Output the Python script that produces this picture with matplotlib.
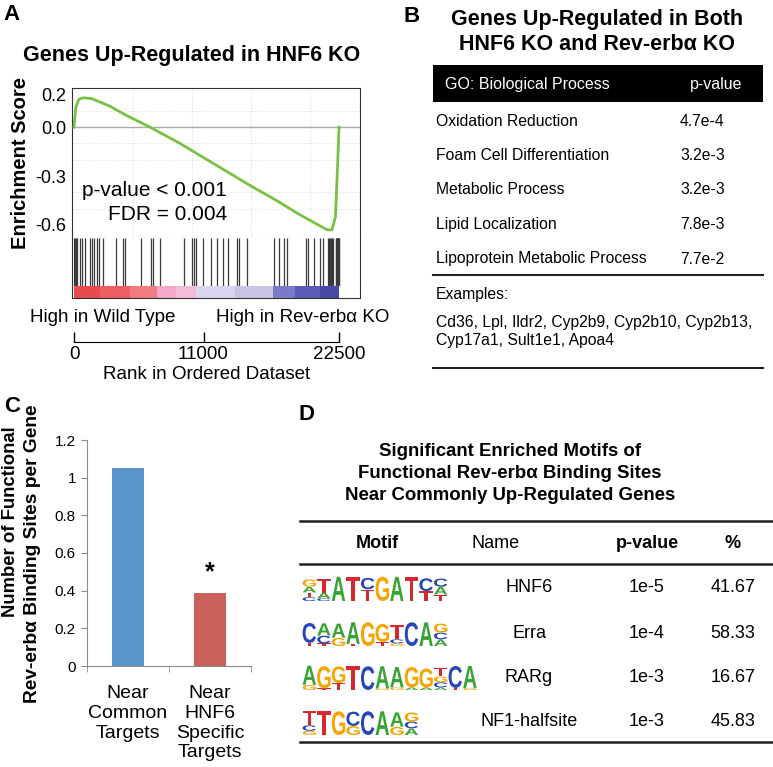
import numpy as np
import matplotlib
matplotlib.use("Agg")
import matplotlib.pyplot as plt
import matplotlib.transforms as mtransforms
from matplotlib.textpath import TextPath
from matplotlib.patches import PathPatch, Rectangle
from matplotlib.font_manager import FontProperties

plt.rcParams['font.family'] = ['Liberation Sans', 'DejaVu Sans']

W, H = 773, 767

# ---------------- data ----------------
# A: GSEA running enrichment score
es_rank = [0, 150, 400, 800, 1500, 3000, 4500, 6450, 9000, 12000, 15000,
           17200, 19000, 20500, 21500, 21900, 22200, 22400, 22500]
es_score = [0.0, 0.12, 0.17, 0.18, 0.175, 0.13, 0.07, 0.0, -0.10, -0.23, -0.36,
            -0.45, -0.53, -0.59, -0.63, -0.63, -0.55, -0.20, 0.0]
hit_ranks = [30, 100, 170, 280, 484, 680, 960, 1330, 1530, 1700, 1980, 2120, 2440,
             3590, 4160, 4300, 5710, 6510, 6730, 7280, 9340, 10020, 10190, 10360,
             10950, 11660, 12120, 12680, 13100, 13870, 14030, 14660, 17010, 17400,
             17830, 18110, 19670, 19890, 20380, 20890, 21170, 21560, 21640, 21720,
             21800, 21880, 22020, 22220, 22260, 22300, 22340, 22380, 22420, 22460, 22500]
band_edges = [0, 2200, 4750, 7050, 8650, 10360, 13670, 16900, 18760, 20890, 22500]
band_colors = ['#e84a4e', '#ec5e62', '#f07c80', '#f2a8c8', '#f4bcd8',
               '#d8d6ee', '#c8c4e4', '#7a7ac8', '#5a5ab8', '#4848a8']
rank_ticks = [0, 11000, 22500]

# B: GO table
go_terms = ['Oxidation Reduction', 'Foam Cell Differentiation', 'Metabolic Process',
            'Lipid Localization', 'Lipoprotein Metabolic Process']
go_pvals = ['4.7e-4', '3.2e-3', '3.2e-3', '7.8e-3', '7.7e-2']
example_genes = ['Cd36, Lpl, Ildr2, Cyp2b9, Cyp2b10, Cyp2b13,',
                 'Cyp17a1, Sult1e1, Apoa4']

# C: binding sites per gene
c_categories = ['Near\nCommon\nTargets', 'Near\nHNF6\nSpecific\nTargets']
c_values = [1.05, 0.39]
c_colors = ['#5b93cb', '#cb625a']

# D: motifs
motif_names = ['HNF6', 'Erra', 'RARg', 'NF1-halfsite']
motif_pvals = ['1e-5', '1e-4', '1e-3', '1e-3']
motif_pct = ['41.67', '58.33', '16.67', '45.83']
# each column: (letter, height) from bottom to top
hnf6_logo = [
    [('C', .15), ('T', .18), ('A', .22), ('G', .28)],
    [('C', .1), ('A', .22), ('T', .55)],
    [('A', .95)], [('T', .95)],
    [('T', .45), ('C', .45)],
    [('G', .95)], [('A', .95)], [('T', .95)],
    [('T', .38), ('C', .5)],
    [('T', .25), ('A', .3), ('C', .32)],
]
erra_logo = [
    [('T', .12), ('C', .78)],
    [('T', .1), ('C', .3), ('A', .48)],
    [('G', .32), ('A', .55)],
    [('T', .08), ('A', .85)],
    [('G', .93)],
    [('T', .16), ('G', .7)],
    [('G', .1), ('C', .16), ('T', .55)],
    [('C', .93)], [('A', .93)],
    [('A', .26), ('C', .26), ('G', .35)],
]
rarg_logo = [
    [('G', .2), ('A', .75)],
    [('T', .06), ('G', .87)],
    [('T', .27), ('G', .65)],
    [('T', .93)], [('C', .93)],
    [('G', .06), ('A', .87)],
    [('G', .1), ('A', .8)],
    [('A', .1), ('G', .8)],
    [('A', .1), ('G', .74)],
    [('A', .1), ('C', .2), ('G', .22), ('T', .35)],
    [('T', .08), ('C', .86)],
    [('G', .08), ('A', .86)],
]
nf1_logo = [
    [('G', .16), ('C', .22), ('T', .55)],
    [('T', .93)], [('G', .93)],
    [('G', .35), ('C', .56)],
    [('C', .93)], [('A', .93)],
    [('G', .32), ('A', .56)],
    [('A', .26), ('C', .26), ('G', .35)],
]
logos = [hnf6_logo, erra_logo, rarg_logo, nf1_logo]
base_colors = {'A': '#3aa335', 'C': '#2647b5', 'G': '#f5a400', 'T': '#d42a2f'}

# ---------------- helpers ----------------
fig = plt.figure(figsize=(W / 100, H / 100), dpi=100)


def box(x0, y0, x1, y1):
    return [x0 / W, 1 - y1 / H, (x1 - x0) / W, (y1 - y0) / H]


LOGO_FONT = FontProperties(family='Liberation Sans', weight='bold')


def draw_letter(ax, letter, x, y, w, h, color):
    tp = TextPath((0, 0), letter, size=1, prop=LOGO_FONT)
    bb = tp.get_extents()
    t = (mtransforms.Affine2D().translate(-bb.x0, -bb.y0)
         .scale(w / bb.width, h / bb.height).translate(x, y))
    ax.add_patch(PathPatch(t.transform_path(tp), facecolor=color, lw=0))


# overlay in pixel coords for labels / tables
ov = fig.add_axes([0, 0, 1, 1])
ov.set_xlim(0, W)
ov.set_ylim(H, 0)
ov.axis('off')
ov.set_zorder(10)

# ---------------- panel A ----------------
px_per_rank = 265 / 22500
xl = (-2 / px_per_rank, 22500 + 21 / px_per_rank)

ax_es = fig.add_axes(box(72, 88, 360, 238))
ax_es.plot(es_rank, es_score, color='#79c143', lw=2, zorder=3)
ax_es.axhline(0, color='#aaaaaa', lw=1, zorder=2)
ax_es.set_xlim(*xl)
ax_es.set_ylim(-0.68, 0.24)
ax_es.set_yticks([0.2, 0.0, -0.3, -0.6], ['0.2', '0.0', '-0.3', '-0.6'])
ax_es.set_yticks(np.arange(-0.6, 0.25, 0.1), minor=True)
ax_es.set_xticks([5000, 10000, 15000, 20000], minor=True)
ax_es.set_xticks([])
ax_es.tick_params(axis='y', which='both', length=0, labelsize=13, pad=4)
ax_es.tick_params(axis='x', which='both', length=0)
ax_es.grid(which='minor', color='#dddddd', ls=':', lw=0.8)
for s in ['top', 'left', 'right']:
    ax_es.spines[s].set_color('#333333')
ax_es.spines['bottom'].set_color('#cccccc')
ax_es.set_ylabel('Enrichment Score', fontsize=14.5, fontweight='bold', labelpad=4)

ax_hit = fig.add_axes(box(72, 238, 360, 286))
ax_hit.vlines(hit_ranks, 0, 1, color='#3a3a3a', lw=0.9)
ax_hit.set_xlim(*xl)
ax_hit.set_ylim(0, 1)
ax_hit.set_xticks([])
ax_hit.set_yticks([])
ax_hit.spines['top'].set_visible(False)
ax_hit.spines['bottom'].set_color('#cccccc')
for s in ['left', 'right']:
    ax_hit.spines[s].set_color('#333333')

ax_band = fig.add_axes(box(72, 286, 360, 298))
for i, c in enumerate(band_colors):
    ax_band.axvspan(band_edges[i], band_edges[i + 1], color=c, lw=0)
ax_band.set_xlim(*xl)
ax_band.set_ylim(0, 1)
ax_band.set_xticks([])
ax_band.set_yticks([])
ax_band.spines['top'].set_visible(False)
for s in ['left', 'right', 'bottom']:
    ax_band.spines[s].set_color('#333333')

ax_rank = fig.add_axes(box(74, 322, 339, 342))
ax_rank.set_xlim(0, 22500)
ax_rank.set_xticks(rank_ticks, [str(t) for t in rank_ticks])
ax_rank.set_yticks([])
ax_rank.tick_params(axis='x', direction='in', length=7.2, width=1, labelsize=13.5, pad=3)
for s in ['top', 'left', 'right']:
    ax_rank.spines[s].set_visible(False)
ax_rank.patch.set_alpha(0)
ax_rank.set_xlabel('Rank in Ordered Dataset', fontsize=13.5, labelpad=2)

ov.text(12, 15, 'A', fontsize=16, fontweight='bold', ha='center', va='center')
ov.text(192, 55, 'Genes Up-Regulated in HNF6 KO', fontsize=15.5, fontweight='bold',
        ha='center', va='center')
ov.text(82, 191, 'p-value < 0.001', fontsize=15, ha='left', va='center')
ov.text(108, 215, 'FDR = 0.004', fontsize=15, ha='left', va='center')
ov.text(30, 317, 'High in Wild Type', fontsize=13.5, ha='left', va='center')
ov.text(389, 317, 'High in Rev-erb\u03b1 KO', fontsize=13.5, ha='right', va='center')

# ---------------- panel B ----------------
ov.text(412, 16, 'B', fontsize=16, fontweight='bold', ha='center', va='center')
ov.text(597, 20, 'Genes Up-Regulated in Both', fontsize=15.5, fontweight='bold',
        ha='center', va='center')
ov.text(597, 45, 'HNF6 KO and Rev-erb\u03b1 KO', fontsize=15.5, fontweight='bold',
        ha='center', va='center')
ov.add_patch(Rectangle((433, 65), 330, 37, facecolor='black', lw=0))
ov.text(445, 84, 'GO: Biological Process', color='white', fontsize=11.5, va='center')
ov.text(690, 84, 'p-value', color='white', fontsize=11.5, va='center')
for i, (term, p) in enumerate(zip(go_terms, go_pvals)):
    y = 121 + i * 34.5
    ov.text(436, y, term, fontsize=11.3, va='center')
    ov.text(680, y, p, fontsize=11.3, va='center')
ov.plot([433, 763], [275, 275], color='#222222', lw=1.5)
ov.text(436, 294, 'Examples:', fontsize=11.3, va='center')
ov.text(436, 322, example_genes[0], fontsize=11.3, va='center')
ov.text(436, 340, example_genes[1], fontsize=11.3, va='center')
ov.plot([433, 763], [368, 368], color='#222222', lw=1.5)

# ---------------- panel C ----------------
ax_c = fig.add_axes(box(87, 440, 251, 666))
ax_c.bar([0, 1], c_values, width=0.4, color=c_colors)
ax_c.set_xlim(-0.5, 1.5)
ax_c.set_ylim(0, 1.2)
ax_c.set_yticks([0, 0.2, 0.4, 0.6, 0.8, 1, 1.2], ['0', '0.2', '0.4', '0.6', '0.8', '1', '1.2'])
ax_c.set_xticks([0, 1], c_categories)
ax_c.set_xticks([-0.5, 0.5, 1.5], minor=True)
ax_c.tick_params(axis='x', which='major', length=0, labelsize=14, pad=14)
ax_c.tick_params(axis='x', which='minor', length=4, color='#8c8c8c')
ax_c.tick_params(axis='y', length=4, color='#8c8c8c', labelsize=11, pad=4)
ax_c.spines['top'].set_visible(False)
ax_c.spines['right'].set_visible(False)
ax_c.spines['left'].set_color('#8c8c8c')
ax_c.spines['bottom'].set_color('#8c8c8c')
ax_c.text(1, 0.5, '*', fontsize=18, fontweight='bold', ha='center', va='center')

ov.text(12, 407, 'C', fontsize=16, fontweight='bold', ha='center', va='center')
ov.text(11, 522, 'Number of Functional', fontsize=13.3, fontweight='bold', rotation=90,
        ha='center', va='center')
ov.text(33, 554, 'Rev-erb\u03b1 Binding Sites per Gene', fontsize=13.8, fontweight='bold',
        rotation=90, ha='center', va='center')

# ---------------- panel D ----------------
ov.text(307, 414, 'D', fontsize=16, fontweight='bold', ha='center', va='center')
for i, line in enumerate(['Significant Enriched Motifs of',
                          'Functional Rev-erb\u03b1 Binding Sites',
                          'Near Commonly Up-Regulated Genes']):
    ov.text(510, 452 + i * 22, line, fontsize=13.4, fontweight='bold', ha='center', va='center')
for y in [521, 564, 742]:
    ov.plot([300, 772], [y, y], color='#222222', lw=1.8)
ov.text(377, 544, 'Motif', fontsize=13, fontweight='bold', ha='center', va='center')
ov.text(496, 544, 'Name', fontsize=13, ha='center', va='center')
ov.text(647, 544, 'p-value', fontsize=13, fontweight='bold', ha='center', va='center')
ov.text(733, 544, '%', fontsize=13, fontweight='bold', ha='center', va='center')

row_y = [588, 633, 677, 722]
for i in range(4):
    ov.text(529, row_y[i], motif_names[i], fontsize=13, ha='center', va='center')
    ov.text(647, row_y[i], motif_pvals[i], fontsize=13, ha='center', va='center')
    ov.text(733, row_y[i], motif_pct[i], fontsize=13, ha='center', va='center')

    logo = logos[i]
    colw = 14.6
    top = row_y[i] - 13
    ax_l = fig.add_axes(box(302, top, 302 + colw * len(logo), top + 26))
    ax_l.set_xlim(0, len(logo))
    ax_l.set_ylim(0, 1)
    ax_l.axis('off')
    for j, col in enumerate(logo):
        y0 = 0
        for letter, h in col:
            draw_letter(ax_l, letter, j + 0.04, y0, 0.92, h * 0.98, base_colors[letter])
            y0 += h

fig.savefig('out.png', dpi=100)
